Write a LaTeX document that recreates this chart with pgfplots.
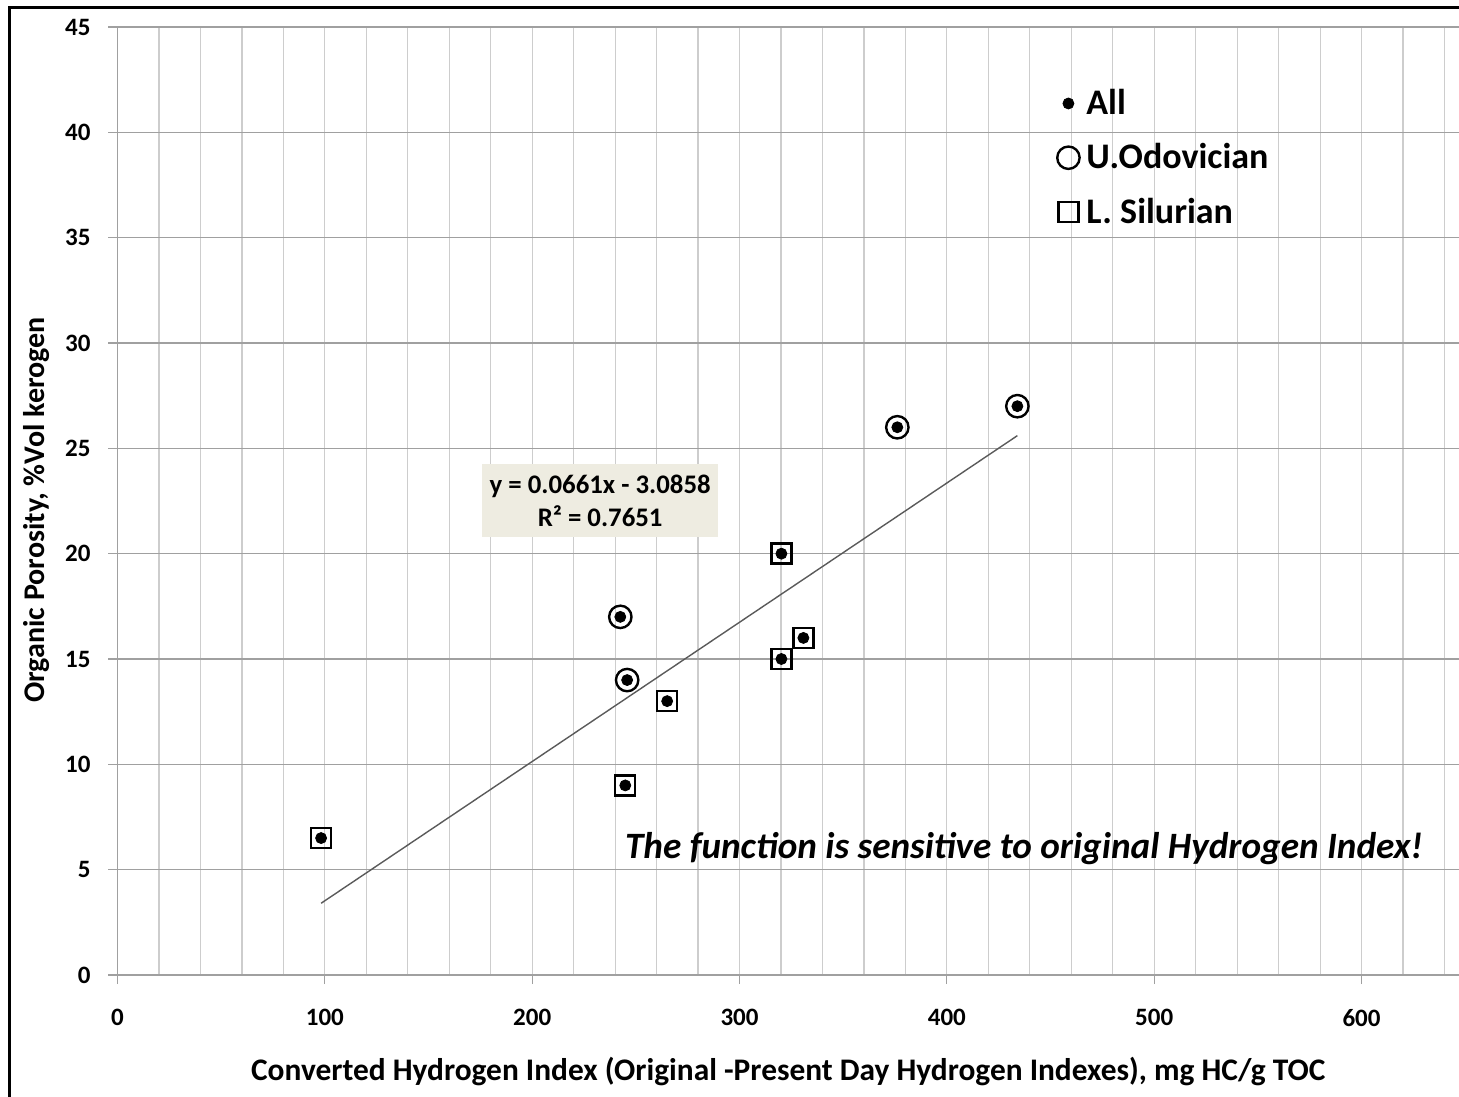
\documentclass[border=0pt]{standalone}
\usepackage{fontspec}
\setmainfont{Carlito}
\usepackage{pgfplots}
\pgfplotsset{compat=1.18}
\definecolor{gridlight}{RGB}{205,205,205}
\definecolor{griddark}{RGB}{160,160,160}
\definecolor{eqbox}{RGB}{238,236,225}
\definecolor{trend}{RGB}{90,90,90}
\begin{document}
\begin{tikzpicture}[x=1pt,y=1pt]
\begin{axis}[
  at={(0,0)}, anchor=south west,
  scale only axis, width=670.75pt, height=474pt,
  xmin=0, xmax=647, ymin=0, ymax=45,
  xtick={0,100,...,600}, ytick={0,5,...,45},
  minor xtick={20,40,...,640},
  grid=both,
  major grid style={line width=0.6pt},
  minor grid style={line width=0.6pt},
  x grid style={draw=gridlight},
  y grid style={draw=griddark},
  axis x line*=bottom, axis y line*=left,
  axis line style={draw=griddark, line width=0.6pt, -},
  tick align=outside, major tick length=4.5pt, minor tick length=0pt,
  tick style={draw=griddark, line width=0.6pt},
  /pgf/number format/assume math mode=true,
  ticklabel style={font=\bfseries\fontsize{12.5}{15}\selectfont},
  xticklabel style={yshift=-9pt},
  yticklabel style={xshift=-5.5pt},
  xlabel={Converted Hydrogen Index (Original -Present Day Hydrogen Indexes), mg HC/g TOC},
  ylabel={Organic Porosity, \%Vol kerogen},
  xlabel style={font=\bfseries\fontsize{15.7}{18}\selectfont, at={(rel axis cs:0.5,0)}, anchor=center, yshift=-48.5pt},
  ylabel style={font=\bfseries\fontsize{15}{18}\selectfont, at={([xshift=-40.25pt]rel axis cs:0,0.4905)}, anchor=center},
  legend style={draw=none, fill=none, at={(rel axis cs:0.6981,0.9378)}, anchor=north west,
    font=\bfseries\fontsize{18}{21}\selectfont, row sep=10pt, inner sep=0pt,
    nodes={inner sep=1.5pt}},
  legend cell align=left,
  legend image code/.code={\path[draw=none,fill=none] (0pt,-1pt) rectangle (14.5pt,1pt); \draw[#1] plot coordinates {(7pt,0pt)};},
]
\addplot[only marks, mark=*, mark size=2.75pt, black] coordinates {
(98.2,6.5) (244.9,9) (242.5,17) (245.8,14) (265.1,13) (320.2,20) (320.2,15) (330.8,16) (376.1,26) (434,27)};
\addlegendentry{All}
\addplot[only marks, mark=o, mark size=5.6pt, black, line width=1.2pt] coordinates {
(242.5,17) (245.8,14) (376.1,26) (434,27)};
\addlegendentry{U.Odovician}
\addplot[only marks, mark=square, mark size=5pt, black, line width=1.2pt] coordinates {
(98.2,6.5) (244.9,9) (265.1,13) (320.2,20) (320.2,15) (330.8,16)};
\addlegendentry{L. Silurian}
\addplot[forget plot, draw=trend, line width=0.7pt] coordinates {(98.2,3.405) (434,25.602)};
\node[fill=eqbox, minimum width=118pt, minimum height=36.5pt, align=center, inner sep=0pt,
  font=\bfseries\fontsize{13.4}{16.5}\selectfont] at (axis cs:232.8,22.52)
  {y = 0.0661x - 3.0858\\R² = 0.7651};
\node[font=\bfseries\itshape\fontsize{18.6}{23}\selectfont] at (axis cs:437.2,5.98)
  {The function is sensitive to original Hydrogen Index!};
\end{axis}
\draw[line width=1.5pt] (-53.75,-90) -- (-53.75,483.5) -- (720,483.5);
\pgfresetboundingbox
\path[use as bounding box] (-58.75,-60.5) rectangle (670.75,487.5);
\end{tikzpicture}
\end{document}
